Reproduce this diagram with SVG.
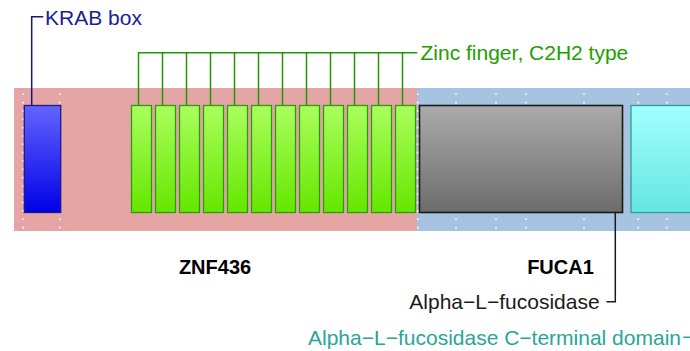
<svg xmlns="http://www.w3.org/2000/svg" width="690" height="351" viewBox="0 0 690 351">
<defs>
<linearGradient id="gBlue" x1="0" y1="0" x2="0" y2="1"><stop offset="0" stop-color="#6464ff"/><stop offset="1" stop-color="#0000e6"/></linearGradient>
<linearGradient id="gGreen" x1="0" y1="0" x2="0" y2="1"><stop offset="0" stop-color="#aaff5e"/><stop offset="1" stop-color="#66e600"/></linearGradient>
<linearGradient id="gGray" x1="0" y1="0" x2="0" y2="1"><stop offset="0" stop-color="#ababab"/><stop offset="1" stop-color="#6c6c6c"/></linearGradient>
<linearGradient id="gCyan" x1="0" y1="0" x2="0" y2="1"><stop offset="0" stop-color="#a2ffff"/><stop offset="1" stop-color="#64e6df"/></linearGradient>
</defs>
<style>
text{font-family:"Liberation Sans",Arial,sans-serif;font-size:21px}
.bold{font-weight:bold;font-size:20px;fill:#000}
.dots{stroke:#ffffff;stroke-width:1.6;stroke-dasharray:1.6 6.73;fill:none}
.zf{fill:url(#gGreen);stroke:#2a9c10;stroke-width:1.3}
.gl{stroke:#1f9a00;stroke-width:1.5;fill:none}
</style>
<g id="gene-ZNF436">
<rect x="14" y="88" width="403" height="143" fill="#e5a5a5"/>
</g>
<g id="gene-FUCA1">
<rect x="417" y="88" width="273" height="143" fill="#a7c3e2"/>
</g>
<g id="exon-boundaries">
<line class="dots" x1="23" y1="93.5" x2="23" y2="231"/>
<line class="dots" x1="59.7" y1="93.5" x2="59.7" y2="231"/>
<line class="dots" x1="417.7" y1="93.5" x2="417.7" y2="231"/>
<line class="dots" x1="456" y1="93.5" x2="456" y2="231"/>
<line class="dots" x1="496" y1="93.5" x2="496" y2="231"/>
<line class="dots" x1="526" y1="93.5" x2="526" y2="231"/>
<line class="dots" x1="584" y1="93.5" x2="584" y2="231"/>
<line class="dots" x1="638.3" y1="93.5" x2="638.3" y2="231"/>
<line class="dots" x1="666.7" y1="93.5" x2="666.7" y2="231"/>
</g>
<g id="krab-box">
<rect x="24.3" y="105.5" width="36.4" height="107" fill="url(#gBlue)" stroke="#1a1a8c" stroke-width="1.3"/>
</g>
<g id="zinc-fingers">
<rect class="zf" x="131.5" y="105.5" width="20" height="107"/>
<rect class="zf" x="155.5" y="105.5" width="20" height="107"/>
<rect class="zf" x="179.5" y="105.5" width="20" height="107"/>
<rect class="zf" x="203.5" y="105.5" width="20" height="107"/>
<rect class="zf" x="227.5" y="105.5" width="20" height="107"/>
<rect class="zf" x="251.5" y="105.5" width="20" height="107"/>
<rect class="zf" x="275.5" y="105.5" width="20" height="107"/>
<rect class="zf" x="299.5" y="105.5" width="20" height="107"/>
<rect class="zf" x="323.5" y="105.5" width="20" height="107"/>
<rect class="zf" x="347.5" y="105.5" width="20" height="107"/>
<rect class="zf" x="371.5" y="105.5" width="20" height="107"/>
<rect class="zf" x="395.5" y="105.5" width="20" height="107"/>
</g>
<g id="alpha-L-fucosidase">
<rect x="419.5" y="105.5" width="203" height="107" fill="url(#gGray)" stroke="#1a1a1a" stroke-width="1.6"/>
</g>
<g id="fucosidase-C-terminal">
<rect x="631" y="105.5" width="70" height="107" fill="url(#gCyan)" stroke="#2a9e9a" stroke-width="1.3"/>
</g>
<g id="connectors">
<polyline points="31.7,106 31.7,16.7 43.3,16.7" fill="none" stroke="#141488" stroke-width="1.5"/>
<polyline class="gl" points="138.5,105 138.5,52.7 417.3,52.7"/>
<line class="gl" x1="162.5" y1="52.7" x2="162.5" y2="105"/>
<line class="gl" x1="186.5" y1="52.7" x2="186.5" y2="105"/>
<line class="gl" x1="210.5" y1="52.7" x2="210.5" y2="105"/>
<line class="gl" x1="234.5" y1="52.7" x2="234.5" y2="105"/>
<line class="gl" x1="258.5" y1="52.7" x2="258.5" y2="105"/>
<line class="gl" x1="282.5" y1="52.7" x2="282.5" y2="105"/>
<line class="gl" x1="306.5" y1="52.7" x2="306.5" y2="105"/>
<line class="gl" x1="330.5" y1="52.7" x2="330.5" y2="105"/>
<line class="gl" x1="354.5" y1="52.7" x2="354.5" y2="105"/>
<line class="gl" x1="378.5" y1="52.7" x2="378.5" y2="105"/>
<line class="gl" x1="402.5" y1="52.7" x2="402.5" y2="105"/>
<polyline points="606.5,301.7 615.3,301.7 615.3,213" fill="none" stroke="#1a1a1a" stroke-width="1.5"/>
<polyline points="683.3,337.3 694,337.3 694,213" fill="none" stroke="#2aa59a" stroke-width="1.5"/>
</g>
<g id="labels">
<text x="45" y="25" fill="#1c1c96">KRAB box</text>
<text x="420.5" y="59.5" fill="#239e00">Zinc finger, C2H2 type</text>
<text class="bold" x="215" y="273.5" text-anchor="middle">ZNF436</text>
<text class="bold" x="560.5" y="273.5" text-anchor="middle">FUCA1</text>
<text x="409.3" y="309" fill="#1a1a1a">Alpha−L−fucosidase</text>
<text x="681" y="345" fill="#2aa59a" text-anchor="end">Alpha−L−fucosidase C−terminal domain</text>
</g>
</svg>
